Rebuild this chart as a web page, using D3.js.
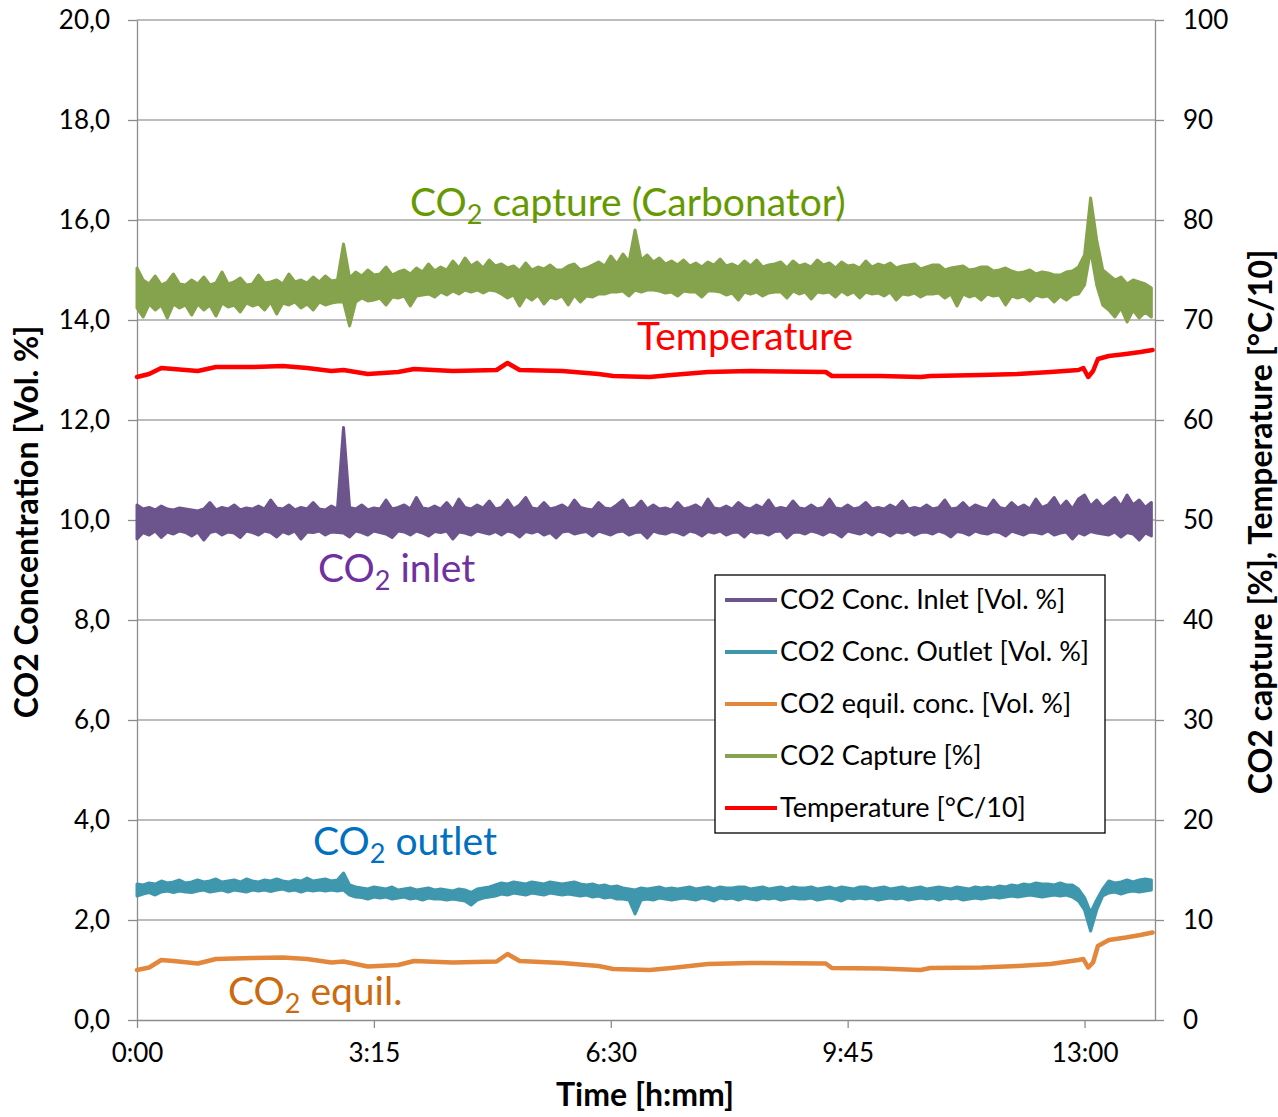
<!DOCTYPE html>
<html>
<head>
<meta charset="utf-8">
<script src="https://cdn.jsdelivr.net/npm/d3@7"></script>
<style>
body { margin: 0; background: #fff; }
svg text { font-family: Lato, "Open Sans", sans-serif; }
</style>
</head>
<body>
<div id="chart-area"></div>
<script>
let width = 1278,
    height = 1117;

// time in minutes for the noisy logger series (5 min steps)
let tNoisy = d3.range(0, 840, 5);

// noisy series are kept as upper / lower edge of the band
// CO2 capture [%] (right axis)
let captureHi = [
  75.2, 74.0, 73.6, 74.4, 73.5, 73.8, 74.6, 73.6, 73.5, 74.0,
  73.6, 74.3, 73.5, 73.7, 74.8, 73.6, 73.8, 74.2, 73.5, 73.6,
  74.5, 73.7, 73.8, 74.0, 73.6, 74.6, 73.8, 74.0, 73.7, 74.3,
  73.8, 74.4, 73.9, 74.0, 77.6, 74.2, 74.8, 74.4, 75.0, 74.5,
  74.6, 75.3, 74.5, 74.8, 75.0, 74.6, 75.2, 74.8, 75.6, 74.9,
  75.3, 75.0, 75.9, 75.2, 76.2, 75.4, 75.8, 75.2, 76.0, 75.4,
  75.6, 75.2, 75.4, 74.9, 75.7, 75.0, 75.3, 75.1, 75.5, 75.0,
  75.0, 75.4, 75.6, 75.0, 75.2, 75.5, 75.8, 75.4, 76.4, 75.6,
  76.6, 75.8, 79.0, 76.0, 76.5, 75.8, 76.2, 75.6, 75.9, 75.5,
  76.0, 75.4, 75.7, 75.3, 75.8, 75.5, 76.1, 75.4, 75.6, 75.3,
  75.9, 75.4, 76.0, 75.3, 75.5, 75.6, 75.8, 75.2, 75.9, 75.4,
  75.6, 75.3, 76.0, 75.5, 75.7, 75.2, 75.8, 75.4, 75.5, 75.2,
  75.9, 75.3, 75.6, 75.4, 75.7, 75.2, 75.4, 75.5, 75.6, 75.1,
  75.3, 75.5, 75.5, 75.0, 75.2, 75.3, 75.4, 75.0, 75.1, 75.3,
  75.3, 74.9, 75.0, 75.2, 74.9, 74.7, 74.8, 75.0, 74.6, 74.8,
  74.7, 74.5, 74.5, 74.8, 74.9, 75.3, 76.5, 82.2, 78.0, 75.0,
  74.5, 74.0, 74.3, 73.6, 74.0, 73.8, 73.6, 73.2
];
let captureLo = [
  71.2, 70.3, 71.6, 71.0, 71.5, 70.2, 71.6, 71.2, 71.5, 70.5,
  71.6, 71.0, 71.5, 70.4, 71.7, 71.3, 71.5, 70.8, 71.7, 71.4,
  71.6, 71.0, 71.8, 70.6, 71.7, 71.5, 71.8, 71.2, 71.6, 71.0,
  71.8, 71.5, 71.7, 71.8, 71.8, 69.4, 71.8, 72.2, 71.9, 72.0,
  72.2, 71.5, 72.3, 72.2, 72.4, 71.4, 72.4, 72.5, 72.6, 72.3,
  72.8, 72.5, 72.9, 72.6, 73.0, 72.8, 73.0, 72.7, 73.0, 72.9,
  72.6, 72.2, 72.5, 71.4, 72.4, 72.0, 72.5, 71.6, 72.3, 72.1,
  72.4, 71.5, 72.5, 71.8, 72.4, 72.3, 72.6, 72.6, 72.8, 72.8,
  72.9, 72.4, 73.0, 72.8, 73.0, 73.0, 72.9, 72.7, 72.8, 72.4,
  72.9, 72.8, 72.8, 72.3, 72.9, 72.9, 72.8, 72.5, 72.7, 72.0,
  72.8, 72.6, 72.8, 72.4, 72.7, 72.8, 72.8, 72.2, 72.9, 72.6,
  72.8, 72.1, 72.8, 72.7, 72.8, 72.3, 72.9, 72.5, 72.8, 72.2,
  72.8, 72.6, 72.7, 72.4, 72.8, 72.0, 72.6, 72.5, 72.7, 72.3,
  72.6, 72.6, 72.7, 72.2, 72.6, 71.4, 72.6, 72.3, 72.5, 72.0,
  72.6, 72.4, 72.5, 71.5, 72.4, 72.2, 72.4, 71.9, 72.5, 72.3,
  72.4, 71.8, 72.4, 72.0, 72.5, 72.6, 73.5, 77.0, 73.5, 71.5,
  71.0, 70.3, 71.2, 69.8, 71.0, 70.2, 70.8, 70.3
];

// CO2 conc. inlet [Vol. %]
let inletHi = [
  10.30, 10.22, 10.25, 10.20, 10.28, 10.22, 10.20, 10.24, 10.22, 10.20,
  10.18, 10.22, 10.35, 10.20, 10.25, 10.22, 10.30, 10.20, 10.24, 10.22,
  10.28, 10.22, 10.40, 10.24, 10.22, 10.30, 10.20, 10.25, 10.22, 10.35,
  10.22, 10.20, 10.28, 10.22, 11.85, 10.25, 10.22, 10.30, 10.20, 10.24,
  10.22, 10.40, 10.22, 10.25, 10.30, 10.22, 10.45, 10.24, 10.22, 10.28,
  10.22, 10.35, 10.20, 10.42, 10.25, 10.22, 10.30, 10.24, 10.38, 10.22,
  10.25, 10.40, 10.22, 10.30, 10.45, 10.24, 10.22, 10.35, 10.22, 10.25,
  10.30, 10.22, 10.40, 10.25, 10.22, 10.20, 10.35, 10.24, 10.22, 10.30,
  10.40, 10.22, 10.25, 10.38, 10.22, 10.30, 10.22, 10.24, 10.20, 10.35,
  10.22, 10.25, 10.30, 10.22, 10.42, 10.24, 10.22, 10.28, 10.22, 10.35,
  10.25, 10.22, 10.30, 10.24, 10.40, 10.22, 10.25, 10.22, 10.38, 10.24,
  10.22, 10.30, 10.22, 10.25, 10.42, 10.24, 10.22, 10.30, 10.22, 10.25,
  10.35, 10.22, 10.25, 10.22, 10.30, 10.24, 10.38, 10.22, 10.25, 10.22,
  10.30, 10.22, 10.25, 10.40, 10.22, 10.24, 10.35, 10.22, 10.30, 10.25,
  10.22, 10.40, 10.25, 10.22, 10.35, 10.24, 10.30, 10.22, 10.42, 10.25,
  10.30, 10.45, 10.25, 10.38, 10.22, 10.42, 10.50, 10.28, 10.40, 10.25,
  10.35, 10.45, 10.28, 10.50, 10.30, 10.40, 10.25, 10.35
];
let inletLo = [
  9.62, 9.75, 9.70, 9.78, 9.65, 9.76, 9.72, 9.78, 9.75, 9.68,
  9.76, 9.60, 9.75, 9.78, 9.70, 9.76, 9.74, 9.65, 9.78, 9.75,
  9.70, 9.78, 9.75, 9.66, 9.77, 9.72, 9.78, 9.62, 9.76, 9.75,
  9.78, 9.70, 9.76, 9.75, 9.74, 9.66, 9.78, 9.75, 9.70, 9.78,
  9.75, 9.72, 9.65, 9.78, 9.76, 9.70, 9.78, 9.74, 9.68, 9.77,
  9.75, 9.78, 9.62, 9.76, 9.74, 9.70, 9.78, 9.75, 9.72, 9.77,
  9.70, 9.78, 9.75, 9.66, 9.77, 9.74, 9.78, 9.70, 9.75, 9.64,
  9.76, 9.78, 9.72, 9.75, 9.77, 9.68, 9.78, 9.74, 9.70, 9.76,
  9.78, 9.70, 9.75, 9.76, 9.64, 9.78, 9.74, 9.72, 9.77, 9.75,
  9.70, 9.78, 9.75, 9.68, 9.77, 9.74, 9.78, 9.70, 9.75, 9.76,
  9.66, 9.78, 9.74, 9.75, 9.70, 9.77, 9.78, 9.64, 9.75, 9.76,
  9.72, 9.78, 9.75, 9.70, 9.77, 9.74, 9.66, 9.78, 9.75, 9.72,
  9.77, 9.70, 9.78, 9.75, 9.68, 9.76, 9.74, 9.78, 9.70, 9.75,
  9.76, 9.72, 9.78, 9.74, 9.66, 9.77, 9.75, 9.70, 9.78, 9.74,
  9.72, 9.77, 9.75, 9.68, 9.78, 9.74, 9.70, 9.76, 9.75, 9.72,
  9.78, 9.70, 9.74, 9.76, 9.62, 9.75, 9.70, 9.77, 9.74, 9.72,
  9.70, 9.76, 9.66, 9.75, 9.72, 9.60, 9.74, 9.68
];

// CO2 conc. outlet [Vol. %]
let outletHi = [
  2.72, 2.70, 2.74, 2.72, 2.78, 2.74, 2.76, 2.80, 2.74, 2.76,
  2.80, 2.76, 2.78, 2.82, 2.76, 2.78, 2.80, 2.76, 2.82, 2.78,
  2.76, 2.80, 2.78, 2.82, 2.78, 2.76, 2.80, 2.78, 2.84, 2.78,
  2.80, 2.82, 2.78, 2.80, 2.94, 2.70, 2.66, 2.64, 2.62, 2.66,
  2.64, 2.62, 2.66, 2.60, 2.62, 2.64, 2.60, 2.62, 2.64, 2.60,
  2.62, 2.60, 2.58, 2.62, 2.60, 2.55, 2.62, 2.64, 2.66, 2.70,
  2.74, 2.72, 2.76, 2.74, 2.72, 2.76, 2.74, 2.72, 2.76, 2.74,
  2.72, 2.74, 2.76, 2.72, 2.70, 2.72, 2.68, 2.70, 2.66, 2.68,
  2.64, 2.62, 2.60, 2.64, 2.62, 2.64, 2.66, 2.62, 2.64, 2.62,
  2.64, 2.66, 2.62, 2.64, 2.66, 2.62, 2.66, 2.64, 2.64, 2.66,
  2.66, 2.62, 2.64, 2.66, 2.62, 2.64, 2.66, 2.62, 2.66, 2.64,
  2.64, 2.66, 2.62, 2.64, 2.66, 2.62, 2.66, 2.64, 2.62, 2.66,
  2.66, 2.62, 2.64, 2.66, 2.62, 2.64, 2.66, 2.62, 2.64, 2.66,
  2.62, 2.64, 2.66, 2.64, 2.62, 2.66, 2.64, 2.62, 2.66, 2.64,
  2.66, 2.64, 2.68, 2.66, 2.70, 2.68, 2.72, 2.70, 2.74, 2.72,
  2.72, 2.70, 2.74, 2.70, 2.70, 2.62, 2.45, 2.15, 2.40, 2.62,
  2.78, 2.74, 2.76, 2.80, 2.76, 2.80, 2.82, 2.80
];
let outletLo = [
  2.48, 2.52, 2.55, 2.50, 2.56, 2.58, 2.55, 2.58, 2.56, 2.55,
  2.58, 2.60, 2.56, 2.58, 2.60, 2.56, 2.60, 2.58, 2.56, 2.60,
  2.58, 2.60, 2.57, 2.60, 2.62, 2.58, 2.60, 2.56, 2.60, 2.58,
  2.60, 2.58, 2.60, 2.58, 2.60, 2.50, 2.46, 2.45, 2.42, 2.46,
  2.44, 2.46, 2.42, 2.44, 2.46, 2.42, 2.44, 2.40, 2.44, 2.42,
  2.42, 2.40, 2.42, 2.40, 2.38, 2.30, 2.40, 2.44, 2.46, 2.48,
  2.52, 2.50, 2.54, 2.52, 2.50, 2.54, 2.52, 2.50, 2.54, 2.52,
  2.50, 2.52, 2.50, 2.48, 2.50, 2.46, 2.48, 2.44, 2.46, 2.42,
  2.42, 2.40, 2.12, 2.40, 2.42, 2.40, 2.44, 2.42, 2.40, 2.42,
  2.44, 2.42, 2.40, 2.44, 2.42, 2.38, 2.44, 2.42, 2.44, 2.40,
  2.44, 2.42, 2.40, 2.44, 2.42, 2.44, 2.40, 2.42, 2.44, 2.42,
  2.42, 2.44, 2.40, 2.42, 2.44, 2.42, 2.38, 2.44, 2.42, 2.44,
  2.42, 2.44, 2.40, 2.42, 2.44, 2.42, 2.44, 2.40, 2.42, 2.44,
  2.42, 2.44, 2.40, 2.44, 2.42, 2.44, 2.40, 2.42, 2.44, 2.42,
  2.44, 2.46, 2.44, 2.46, 2.48, 2.46, 2.48, 2.50, 2.48, 2.46,
  2.48, 2.50, 2.48, 2.50, 2.46, 2.38, 2.20, 1.78, 2.20, 2.48,
  2.54, 2.56, 2.52, 2.56, 2.58, 2.56, 2.58, 2.60
];

// smooth series share these times (minutes)
let tSmooth = [0, 10, 20, 30, 50, 65, 95, 120, 140, 160, 170, 180, 190, 215, 228, 260,
  296, 305, 315, 350, 380, 392, 422, 440, 470, 505, 567, 572, 612, 645, 653, 695,
  725, 752, 775, 779, 783, 787, 791, 800, 814, 826, 836];

// CO2 equil. conc. [Vol. %]
let equil = [1.00, 1.05, 1.20, 1.18, 1.13, 1.22, 1.24, 1.25, 1.22, 1.15, 1.17, 1.12, 1.07, 1.10, 1.18, 1.15,
  1.17, 1.32, 1.18, 1.14, 1.08, 1.02, 1.00, 1.04, 1.12, 1.14, 1.13, 1.04, 1.03, 1.00, 1.04, 1.05,
  1.08, 1.12, 1.20, 1.22, 1.05, 1.15, 1.48, 1.60, 1.65, 1.70, 1.75];

// temperature [°C/10] (right axis)
let temperature = [64.3, 64.6, 65.2, 65.1, 64.9, 65.3, 65.3, 65.4, 65.2, 64.9, 65.0, 64.8, 64.6, 64.8, 65.1, 64.9,
  65.0, 65.7, 65.0, 64.9, 64.6, 64.4, 64.3, 64.5, 64.8, 64.9, 64.8, 64.4, 64.4, 64.3, 64.4, 64.5,
  64.6, 64.8, 65.0, 65.2, 64.3, 64.9, 66.1, 66.4, 66.6, 66.8, 67.0];

let leftTicks = d3.range(0, 21, 2);
let rightTicks = d3.range(0, 101, 10);
let timeTicks = [0, 195, 390, 585, 780];

let legendNames = ["CO2 Conc. Inlet [Vol. %]", "CO2 Conc. Outlet [Vol. %]", "CO2 equil. conc. [Vol. %]",
  "CO2 Capture [%]", "Temperature [°C/10]"];
let lineColors = ["#6c548c", "#3f97ae", "#e3873c", "#85a34c", "#ff0000"];

let svg = d3.select("#chart-area")
    .append("svg")
    .attr("width", width)
    .attr("height", height);

// scales
let x = d3.scaleLinear().domain([0, 838]).range([137, 1155]);
let yLeft = d3.scaleLinear().domain([0, 20]).range([1020, 20]);
let yRight = d3.scaleLinear().domain([0, 100]).range([1020, 20]);

// gridlines
svg.append("g")
    .selectAll("line")
    .data(leftTicks.slice(1))
    .enter()
    .append("line")
    .attr("x1", 137)
    .attr("x2", 1155)
    .attr("y1", d => yLeft(d))
    .attr("y2", d => yLeft(d))
    .style("stroke", "#a6a6a6")
    .style("stroke-width", 1.3);

let comma = d => d3.format(".1f")(d).replace(".", ",");
let hmm = m => Math.floor(m / 60) + ":" + d3.format("02")(m % 60);

let leftAxis = svg.append("g")
    .attr("transform", "translate(137,0)")
    .call(d3.axisLeft(yLeft).tickValues(leftTicks).tickFormat(comma).tickSize(9).tickSizeOuter(0).tickPadding(18));

let rightAxis = svg.append("g")
    .attr("transform", "translate(1155,0)")
    .call(d3.axisRight(yRight).tickValues(rightTicks).tickSize(9).tickSizeOuter(0).tickPadding(19));

let bottomAxis = svg.append("g")
    .attr("transform", "translate(0,1020)")
    .call(d3.axisBottom(x).tickValues(timeTicks).tickFormat(hmm).tickSize(8).tickSizeOuter(0).tickPadding(16));

[leftAxis, rightAxis, bottomAxis].forEach(function(a){
    a.selectAll("path, line").style("stroke", "#8c8c8c").style("stroke-width", 1.3);
    a.selectAll("text")
        .style("font-family", "Lato")
        .style("font-size", "26px")
        .style("fill", "#000");
});

// band generators for the noisy series
function band(lo, hi, y){
    return d3.area()
        .x((d, i) => x(tNoisy[i]))
        .y0((d, i) => y(lo[i]))
        .y1((d, i) => y(hi[i]))(lo);
}
let lineLeft = d3.line().x(d => x(d[0])).y(d => yLeft(d[1]));
let lineRight = d3.line().x(d => x(d[0])).y(d => yRight(d[1]));

let bands = [
    {d: band(inletLo, inletHi, yLeft), color: lineColors[0]},
    {d: band(outletLo, outletHi, yLeft), color: lineColors[1]},
    {d: lineLeft(d3.zip(tSmooth, equil)), color: lineColors[2], line: true},
    {d: band(captureLo, captureHi, yRight), color: lineColors[3]},
    {d: lineRight(d3.zip(tSmooth, temperature)), color: lineColors[4], line: true}
];

bands.forEach(function(s){
    svg.append("path")
        .attr("d", s.d)
        .style("fill", s.line ? "none" : s.color)
        .style("stroke", s.color)
        .style("stroke-width", s.line ? 4.5 : 3)
        .style("stroke-linejoin", "round")
        .style("stroke-linecap", "round");
});

// CO2 labels in the plot, with subscript 2
function co2Label(xPos, yPos, rest, color){
    let t = svg.append("text")
        .attr("x", xPos)
        .attr("y", yPos)
        .style("font-size", "39px")
        .style("fill", color);
    t.append("tspan").text("CO");
    t.append("tspan").attr("dy", 8).style("font-size", "27px").text("2");
    t.append("tspan").attr("dy", -8).text(rest);
}
co2Label(410, 216, " capture (Carbonator)", "#669900");
co2Label(318, 582, " inlet", "#7030a0");
co2Label(313, 855, " outlet", "#0070c0");
co2Label(228, 1005, " equil.", "#cc6a10");

svg.append("text")
    .attr("x", 637)
    .attr("y", 350)
    .style("font-size", "39px")
    .style("fill", "#ff0000")
    .text("Temperature");

// legend
let legend = svg.append("g").attr("transform", "translate(715,575)");
legend.append("rect")
    .attr("width", 390)
    .attr("height", 258)
    .style("fill", "#fff")
    .style("stroke", "#000")
    .style("stroke-width", 1.3);

legendNames.forEach(function(name, i){
    let yy = 25 + i * 52;
    legend.append("line")
        .attr("x1", 10).attr("x2", 62)
        .attr("y1", yy).attr("y2", yy)
        .style("stroke", lineColors[i])
        .style("stroke-width", 4);
    legend.append("text")
        .attr("x", 65)
        .attr("y", yy)
        .attr("dy", "0.35em")
        .style("font-size", "27px")
        .style("fill", "#000")
        .text(name);
});

// axis titles
svg.append("text")
    .attr("transform", "translate(38,522) rotate(-90)")
    .attr("text-anchor", "middle")
    .style("font-size", "32px")
    .style("font-weight", "bold")
    .text("CO2 Concentration [Vol. %]");

svg.append("text")
    .attr("transform", "translate(1272,522) rotate(-90)")
    .attr("text-anchor", "middle")
    .style("font-size", "32px")
    .style("font-weight", "bold")
    .text("CO2 capture [%], Temperature [°C/10]");

svg.append("text")
    .attr("x", 645)
    .attr("y", 1106)
    .attr("text-anchor", "middle")
    .style("font-size", "32px")
    .style("font-weight", "bold")
    .text("Time [h:mm]");
</script>
</body>
</html>
